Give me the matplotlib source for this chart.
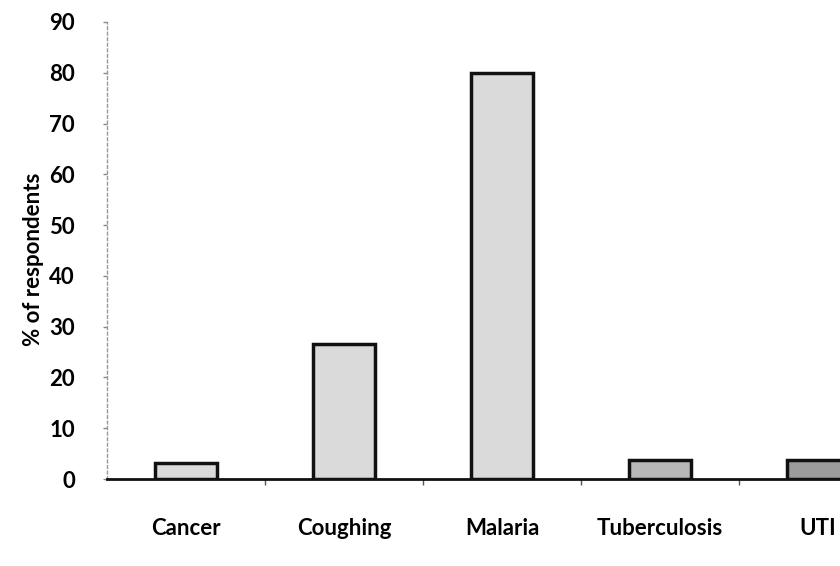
import matplotlib
matplotlib.use("Agg")
import matplotlib.pyplot as plt
from matplotlib.ticker import FixedLocator

plt.rcParams["font.family"] = ["Lato", "DejaVu Sans"]
plt.rcParams["font.weight"] = "bold"

categories = ["Cancer", "Coughing", "Malaria", "Tuberculosis", "UTI"]
percent = [3.2, 26.5, 80.0, 3.8, 3.8]
bar_colors = ["#dadada", "#dadada", "#dadada", "#b8b8b8", "#9c9c9c"]
yticks = list(range(0, 100, 10))

fig = plt.figure(figsize=(8.4, 5.66), dpi=100)
# axes runs past the right edge of the figure, like the cropped original
ax = fig.add_axes([107 / 840, 87 / 566, 790 / 840, 457 / 566])

x = list(range(len(categories)))
ax.bar(x, percent, width=0.39, color=bar_colors, edgecolor="#111111", linewidth=2.5, zorder=3)

ax.set_xlim(-0.5, len(categories) - 0.5)
ax.set_ylim(0, 90)
ax.set_yticks(yticks)
ax.set_xticks(x)
ax.set_xticklabels(categories, fontsize=16, fontweight="bold")
ax.xaxis.set_minor_locator(FixedLocator([i + 0.5 for i in x[:-1]]))
ax.tick_params(axis="x", which="major", length=0, pad=28)
ax.tick_params(axis="x", which="minor", length=4, width=1, color="#555555")
ax.tick_params(axis="y", length=3, width=1, color="#888888", pad=20, labelsize=16)
for lab in ax.get_yticklabels():
    lab.set_fontweight("bold")

ax.set_ylabel("% of respondents", fontsize=16, fontweight="bold")
ax.yaxis.set_label_coords(-0.08, 0.48)

ax.spines["top"].set_visible(False)
ax.spines["right"].set_visible(False)
ax.spines["left"].set_color("#999999")
ax.spines["left"].set_linewidth(1)
ax.spines["left"].set_linestyle((0, (2, 2)))
ax.spines["bottom"].set_color("#111111")
ax.spines["bottom"].set_linewidth(2)

fig.savefig("out.png", dpi=100)
